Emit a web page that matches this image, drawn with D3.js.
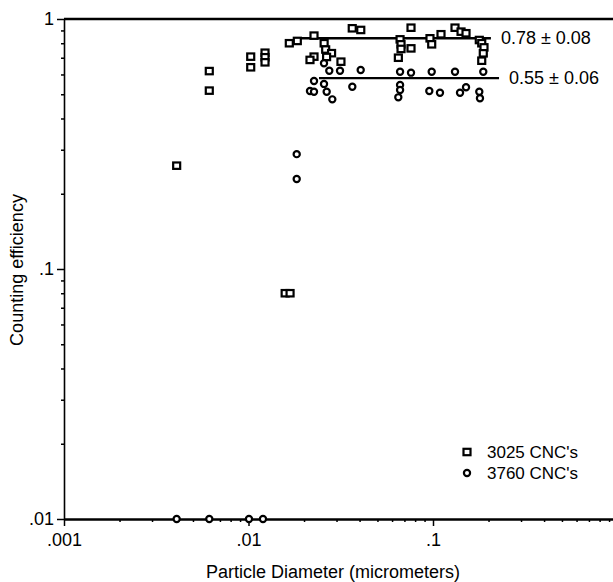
<!DOCTYPE html>
<html>
<head>
<meta charset="utf-8">
<script src="https://cdn.jsdelivr.net/npm/d3@7"></script>
<style>
body { margin: 0; background: #fff; }
text { font-family: "Liberation Sans", Arial, Helvetica, sans-serif; fill: #000; }
</style>
</head>
<body>
<script>
// 3025 CNC's (squares)
var sqDiam = [0.00408, 0.00613, 0.00613, 0.01028, 0.01028, 0.01229, 0.01229, 0.01229,
  0.0158, 0.0168, 0.01664, 0.01839, 0.02265, 0.02265, 0.02154,
  0.0257, 0.0262, 0.0282, 0.0265, 0.0317,
  0.0365, 0.0406,
  0.0663, 0.0671, 0.0671, 0.0649, 0.0760, 0.0760,
  0.0963, 0.0984, 0.1105, 0.1316, 0.1419, 0.151, 0.1782, 0.1837, 0.189, 0.1873, 0.1837];
var sqEff = [0.259, 0.619, 0.517, 0.707, 0.641, 0.733, 0.703, 0.671,
  0.080, 0.080, 0.800, 0.817, 0.858, 0.707, 0.686,
  0.800, 0.755, 0.73, 0.705, 0.675,
  0.918, 0.904,
  0.829, 0.792, 0.759, 0.700, 0.763, 0.923,
  0.837, 0.792, 0.869, 0.923, 0.890, 0.877, 0.824, 0.800, 0.770, 0.729, 0.681];

// 3760 CNC's (circles)
var ciDiam = [0.00408, 0.00613, 0.01006, 0.01198,
  0.01825, 0.01825,
  0.02566, 0.02741, 0.03133, 0.04056,
  0.0663, 0.0760, 0.0984, 0.1316, 0.1873,
  0.02265, 0.02154, 0.02265, 0.02566, 0.02653, 0.02846, 0.03653,
  0.0663, 0.0663, 0.06486, 0.0955, 0.1091, 0.1401, 0.151, 0.1782, 0.1797];
var ciEff = [0.01, 0.01, 0.01, 0.01,
  0.288, 0.229,
  0.665, 0.621, 0.621, 0.625,
  0.615, 0.610, 0.615, 0.615, 0.615,
  0.565, 0.515, 0.512, 0.550, 0.512, 0.477, 0.536,
  0.545, 0.520, 0.486, 0.515, 0.507, 0.507, 0.533, 0.512, 0.482];

// mean lines
var fitLabels = ["0.78 \u00b1 0.08", "0.55 \u00b1 0.06"];
var fitLevel = [0.837, 0.58];
var fitFrom = [0.0183, 0.0241];
var fitTo = [0.206, 0.228];

var xMajor = [0.001, 0.01, 0.1, 1];
var xMajorLabels = [".001", ".01", ".1", "1"];
var yMajor = [0.01, 0.1, 1];
var yMajorLabels = [".01", ".1", "1"];

var legendNames = ["3025 CNC's", "3760 CNC's"];

var svg = d3.select("body").append("svg").attr("width", 613).attr("height", 582);

var x = d3.scaleLog().domain([0.001, 1]).range([64, 617.5]);
var y = d3.scaleLog().domain([0.01, 1]).range([519, 19]);

function minorTicks(majors) {
  var out = [];
  majors.forEach(function(m, i) {
    if (i == majors.length - 1) { out.push(m); return; }
    for (var k = 1; k < 10; k++) out.push(m * k);
  });
  return out;
}
function isMajor(d, majors) {
  return majors.some(function(m) { return Math.abs(d / m - 1) < 1e-6; });
}

// y axis
var yAxis = svg.append("g").attr("transform", "translate(64,0)")
  .call(d3.axisLeft(y).tickValues(minorTicks(yMajor)).tickSizeOuter(0)
    .tickFormat(function(d) {
      var i = yMajor.findIndex(function(m) { return Math.abs(d / m - 1) < 1e-6; });
      return i < 0 ? "" : yMajorLabels[i];
    }));
yAxis.select(".domain").attr("stroke-width", 1.6);
yAxis.selectAll(".tick line").attr("x2", function(d) { return isMajor(d, yMajor) ? -7 : -3; })
  .attr("stroke-width", 1.5);
yAxis.selectAll(".tick text").attr("x", -10).attr("font-size", 18).attr("font-family", null);

// x axis
var xAxis = svg.append("g").attr("transform", "translate(0,519)")
  .call(d3.axisBottom(x).tickValues(minorTicks(xMajor)).tickSizeOuter(0)
    .tickFormat(function(d) {
      var i = xMajor.findIndex(function(m) { return Math.abs(d / m - 1) < 1e-6; });
      return i < 0 ? "" : xMajorLabels[i];
    }));
xAxis.select(".domain").attr("stroke-width", 2.6);
xAxis.selectAll(".tick line").attr("y2", function(d) { return isMajor(d, xMajor) ? 7 : 3; })
  .attr("stroke-width", 1.5);
xAxis.selectAll(".tick text").attr("y", 14).attr("font-size", 18).attr("font-family", null);

// top frame line
svg.append("line").attr("x1", x(0.001)).attr("x2", 613)
  .attr("y1", y(1)).attr("y2", y(1)).attr("stroke", "#000").attr("stroke-width", 2.6);

// titles
svg.append("text").attr("x", 333).attr("y", 578).attr("text-anchor", "middle")
  .attr("font-size", 18).text("Particle Diameter (micrometers)");
svg.append("text").attr("transform", "translate(23,270) rotate(-90)")
  .attr("text-anchor", "middle").attr("font-size", 18).text("Counting efficiency");

// mean lines and labels
fitLevel.forEach(function(v, i) {
  svg.append("line").attr("x1", x(fitFrom[i])).attr("x2", x(fitTo[i]))
    .attr("y1", y(v)).attr("y2", y(v)).attr("stroke", "#000").attr("stroke-width", 2.4);
});
svg.selectAll(".fitlab").data(fitLabels).enter().append("text")
  .attr("x", function(d, i) { return x(fitTo[i]) + 10; })
  .attr("y", function(d, i) { return y(fitLevel[i]) + 6; })
  .attr("font-size", 18).text(function(d) { return d; });

// squares
svg.selectAll(".sq").data(sqDiam).enter().append("rect")
  .attr("x", function(d) { return x(d) - 3.5; })
  .attr("y", function(d, i) { return y(sqEff[i]) - 3.2; })
  .attr("width", 7).attr("height", 6.4)
  .attr("fill", "#fff").attr("stroke", "#000").attr("stroke-width", 2.2);

// circles
svg.selectAll(".ci").data(ciDiam).enter().append("circle")
  .attr("cx", function(d) { return x(d); })
  .attr("cy", function(d, i) { return y(ciEff[i]); })
  .attr("r", 3.1)
  .attr("fill", "#fff").attr("stroke", "#000").attr("stroke-width", 2.2);

// legend
var leg = svg.append("g").attr("transform", "translate(467,452)");
leg.append("rect").attr("x", -3.5).attr("y", -3.2).attr("width", 7).attr("height", 6.4)
  .attr("fill", "#fff").attr("stroke", "#000").attr("stroke-width", 2.2);
leg.append("circle").attr("cx", 0).attr("cy", 21).attr("r", 3.1)
  .attr("fill", "#fff").attr("stroke", "#000").attr("stroke-width", 2.2);
leg.selectAll("text").data(legendNames).enter().append("text")
  .attr("x", 20).attr("y", function(d, i) { return i * 21 + 6; })
  .attr("font-size", 17).text(function(d) { return d; });
</script>
</body>
</html>
